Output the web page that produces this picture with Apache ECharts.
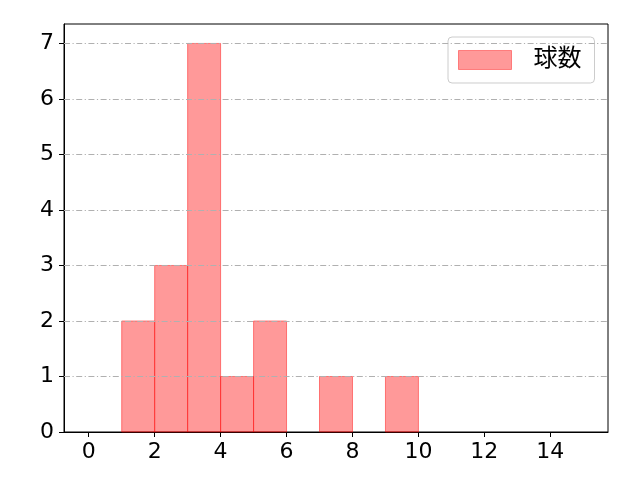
<!DOCTYPE html>
<html>
<head>
<meta charset="utf-8">
<script src="https://cdn.jsdelivr.net/npm/echarts@6/dist/echarts.min.js"></script>
<style>html,body{margin:0;padding:0;background:#fff}#c{width:640px;height:480px}</style>
</head>
<body>
<div id="c"></div>
<script>
const binStarts = [1, 2, 3, 4, 5, 7, 9];
const binEnds   = [2, 3, 4, 5, 6, 8, 10];
const counts    = [2, 3, 7, 1, 2, 1, 1];
const xTicks = [0, 2, 4, 6, 8, 10, 12, 14];
const yTicks = [0, 1, 2, 3, 4, 5, 6, 7];
const seriesName = '球数';

const data = binStarts.map((s, i) => [s, binEnds[i], counts[i]]);
const font = 'DejaVu Sans, Noto Sans CJK JP, sans-serif';

const chart = echarts.init(document.getElementById('c'));
chart.setOption({
  animation: false,
  backgroundColor: '#fff',
  grid: { left: 64, right: 32, top: 24, bottom: 48, show: true, borderColor: '#000', borderWidth: 1, backgroundColor: 'transparent' },
  xAxis: {
    type: 'value', min: -0.75, max: 15.75,
    axisLine: { show: true, onZero: false, lineStyle: { color: '#000', width: 1 } },
    axisTick: { show: true, length: 5, lineStyle: { color: '#000' }, customValues: xTicks },
    axisLabel: { color: '#000', fontSize: 22, fontFamily: font, margin: 9, customValues: xTicks },
    splitLine: { show: false }
  },
  yAxis: {
    type: 'value', min: 0, max: 7.35,
    axisLine: { show: true, onZero: false, lineStyle: { color: '#000', width: 1 } },
    axisTick: { show: true, length: 5, lineStyle: { color: '#000' }, customValues: yTicks },
    axisLabel: { color: '#000', fontSize: 22, fontFamily: font, margin: 10, customValues: yTicks },
    splitLine: { show: false }
  },
  legend: {
    show: true,
    data: [{ name: seriesName, icon: 'rect' }],
    left: 448, top: 37,
    orient: 'vertical',
    itemWidth: 53, itemHeight: 19,
    padding: [11, 13, 11, 10],
    borderColor: '#cccccc', borderWidth: 1, borderRadius: 4,
    backgroundColor: 'rgba(255,255,255,0.8)',
    textStyle: { color: '#000', fontSize: 24, fontFamily: font, padding: [0, 0, 0, 17] },
    itemStyle: { color: 'rgba(255,0,0,0.4)', borderColor: 'rgba(255,0,0,0.4)', borderWidth: 1 }
  },
  series: [
    {
      type: 'line', silent: true, data: [],
      markLine: {
        silent: true, symbol: 'none', label: { show: false },
        lineStyle: { color: '#b0b0b0', width: 1, type: [6, 2.5, 1.2, 2.5] },
        data: yTicks.filter(v => v > 0).map(v => ({ yAxis: v }))
      }
    },
    {
      name: seriesName,
      type: 'custom',
      itemStyle: { color: 'rgba(255,0,0,0.4)' },
      renderItem: function (params, api) {
        const p0 = api.coord([api.value(0), api.value(2)]);
        const p1 = api.coord([api.value(1), 0]);
        return {
          type: 'rect',
          shape: { x: p0[0], y: p0[1], width: p1[0] - p0[0], height: p1[1] - p0[1] },
          style: { fill: 'rgba(255,0,0,0.4)', stroke: 'rgba(255,0,0,0.45)', lineWidth: 1 }
        };
      },
      encode: { x: [0, 1], y: 2 },
      data: data,
      z: 3
    }
  ]
});
</script>
</body>
</html>
